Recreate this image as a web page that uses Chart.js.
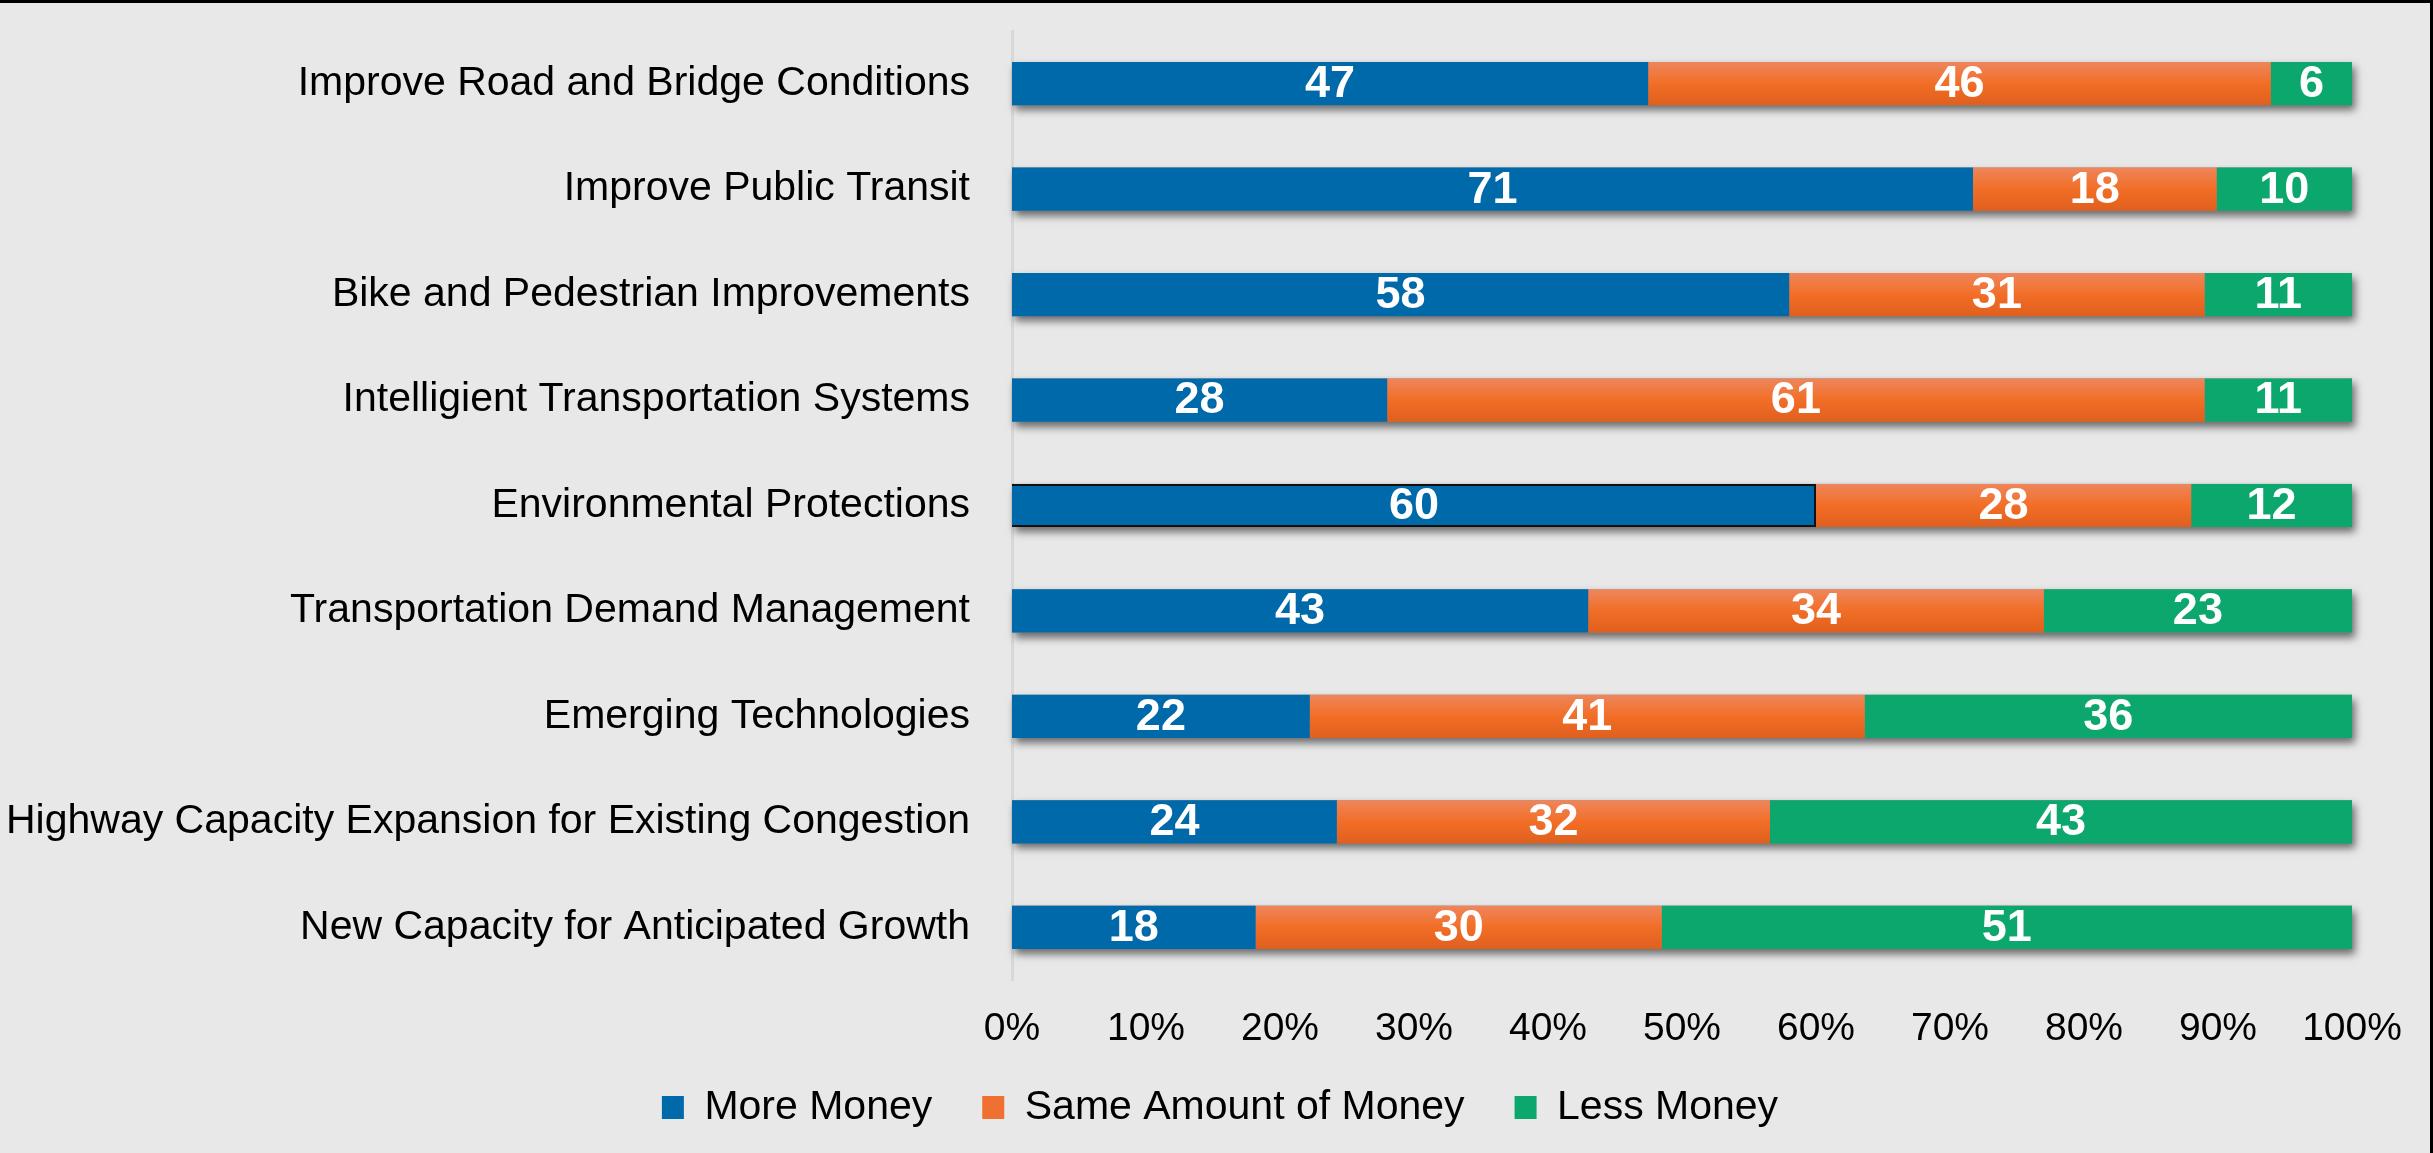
<!DOCTYPE html>
<html>
<head>
<meta charset="utf-8">
<title>Transportation Funding Priorities</title>
<script src="https://cdn.jsdelivr.net/npm/chart.js@4.4.1/dist/chart.umd.min.js"></script>
<style>
    html, body { margin: 0; padding: 0; background: #E8E8E8; }
    #wrap { position: relative; width: 2433px; height: 1153px; }
    #frame {
        position: absolute; left: 0; top: 0; width: 2433px; height: 1153px;
        box-sizing: border-box; border-top: 3px solid #000; border-right: 3px solid #000;
        pointer-events: none;
    }
</style>
</head>
<body>
<div id="wrap">
    <canvas id="fundingChart" width="2433" height="1153"></canvas>
    <div id="frame"></div>
</div>
<script>
// Survey categories, top to bottom
const categories = [
    'Improve Road and Bridge Conditions',
    'Improve Public Transit',
    'Bike and Pedestrian Improvements',
    'Intelligient Transportation Systems',
    'Environmental Protections',
    'Transportation Demand Management',
    'Emerging Technologies',
    'Highway Capacity Expansion for Existing Congestion',
    'New Capacity for Anticipated Growth'
];

// Responses per category
const moreMoney = [47, 71, 58, 28, 60, 43, 22, 24, 18];
const sameMoney = [46, 18, 31, 61, 28, 34, 41, 32, 30];
const lessMoney = [6, 10, 11, 11, 12, 23, 36, 43, 51];

const seriesNames = ['More Money', 'Same Amount of Money', 'Less Money'];
const percentTicks = [0, 10, 20, 30, 40, 50, 60, 70, 80, 90, 100];

const FONT = "'Liberation Sans', Arial, sans-serif";
const BAR_PCT = 0.41;
const LEFT_PAD = 88;
const LEGEND_FONT = 41;
const LEGEND_BOX = 23;
const LEGEND_PAD = 50;

// 100% stacked: each row is scaled to its own total
const rowTotals = categories.map((_, i) => moreMoney[i] + sameMoney[i] + lessMoney[i]);
const share = arr => arr.map((v, i) => v / rowTotals[i] * 100);

function orangeGradient(c, top, bottom) {
    const g = c.createLinearGradient(0, top, 0, bottom);
    g.addColorStop(0, '#EE865C');
    g.addColorStop(0.5, '#F26E27');
    g.addColorStop(1, '#DF5F1D');
    return g;
}

// Orange bars get a light-to-dark vertical gradient
function orangeFill(context) {
    const chart = context.chart;
    const area = chart.chartArea;
    if (!area || context.type !== 'data') return '#EF7030';
    const cy = chart.scales.y.getPixelForValue(context.dataIndex);
    const half = (area.height / categories.length) * BAR_PCT / 2;
    return orangeGradient(chart.ctx, cy - half, cy + half);
}

// Drop shadow under each full bar
const barShadow = {
    id: 'barShadow',
    beforeDatasetsDraw(chart) {
        const ctx = chart.ctx;
        const x = chart.scales.x;
        const left = x.getPixelForValue(0);
        const right = x.getPixelForValue(100);
        ctx.save();
        ctx.shadowColor = 'rgba(0, 0, 0, 0.55)';
        ctx.shadowBlur = 8;
        ctx.shadowOffsetX = 3;
        ctx.shadowOffsetY = 5;
        ctx.fillStyle = '#888';
        chart.getDatasetMeta(0).data.forEach(bar => {
            const { y, height } = bar.getProps(['y', 'height'], true);
            ctx.fillRect(left, y - height / 2, right - left, height);
        });
        ctx.restore();
    }
};

// White count labels centred in each segment
const segmentLabels = {
    id: 'segmentLabels',
    afterDatasetsDraw(chart) {
        const ctx = chart.ctx;
        ctx.save();
        ctx.fillStyle = '#FFFFFF';
        ctx.font = 'bold 45px ' + FONT;
        ctx.textAlign = 'center';
        ctx.textBaseline = 'middle';
        chart.data.datasets.forEach((ds, di) => {
            chart.getDatasetMeta(di).data.forEach((bar, i) => {
                const { x, base, y } = bar.getProps(['x', 'base', 'y'], true);
                ctx.fillText(ds.counts[i], (x + base) / 2, y + 1);
            });
        });
        ctx.restore();
    }
};

// give the orange legend swatch the same gradient once the legend is placed
const legendGradient = {
    id: 'legendGradient',
    afterLayout(chart) {
        const lg = chart.legend;
        if (!lg || !lg.legendItems) return;
        const top = lg.top + LEGEND_PAD + (LEGEND_FONT - LEGEND_BOX) / 2;
        lg.legendItems[1].fillStyle = orangeGradient(chart.ctx, top, top + LEGEND_BOX);
    }
};

// let tick labels spill outside their (trimmed) scale boxes
const noLabelClip = scale => { scale._computeLabelArea = () => null; };

const ctx = document.getElementById('fundingChart').getContext('2d');
const fundingChart = new Chart(ctx, {
    type: 'bar',
    data: {
        labels: categories,
        datasets: [{
            label: seriesNames[0],
            counts: moreMoney,
            data: share(moreMoney),
            backgroundColor: '#0069A9',
            // outlined bar in the Environmental Protections row
            borderColor: '#111111',
            borderWidth: c => c.dataIndex === 4 ? { top: 2, bottom: 2, right: 2, left: 0 } : 0,
            borderSkipped: false
        }, {
            label: seriesNames[1],
            counts: sameMoney,
            data: share(sameMoney),
            backgroundColor: orangeFill
        }, {
            label: seriesNames[2],
            counts: lessMoney,
            data: share(lessMoney),
            backgroundColor: '#0BA76C'
        }]
    },
    options: {
        indexAxis: 'y',
        responsive: false,
        animation: false,
        categoryPercentage: 1,
        barPercentage: BAR_PCT,
        layout: { padding: { top: 31, right: 81, bottom: 15, left: LEFT_PAD } },
        scales: {
            x: {
                stacked: true,
                min: 0,
                max: 100,
                afterBuildTicks: scale => { scale.ticks = percentTicks.map(v => ({ value: v })); },
                afterFit: scale => { scale.height = 57; noLabelClip(scale); },
                ticks: {
                    callback: v => v + '%',
                    color: '#000',
                    font: { family: FONT, size: 39 },
                    padding: 26,
                    maxRotation: 0
                },
                grid: { display: false, drawTicks: false },
                border: { display: false }
            },
            y: {
                stacked: true,
                afterFit: scale => {
                    scale.width = 1012 - LEFT_PAD;
                    scale.paddingTop = 0;
                    scale.paddingBottom = 0;
                    noLabelClip(scale);
                },
                ticks: {
                    color: '#000',
                    font: { family: FONT, size: 41 },
                    padding: 42
                },
                grid: { display: false, drawTicks: false },
                border: { display: true, color: '#D8D8D8', width: 3 }
            }
        },
        plugins: {
            legend: {
                position: 'bottom',
                labels: {
                    color: '#000',
                    font: { family: FONT, size: LEGEND_FONT },
                    boxWidth: 22,
                    boxHeight: LEGEND_BOX,
                    padding: LEGEND_PAD,
                    generateLabels: chart => chart.data.datasets.map((ds, i) => ({
                        text: ds.label,
                        fillStyle: ['#0069A9', '#EF7030', '#0BA76C'][i],
                        strokeStyle: 'transparent',
                        lineWidth: 0,
                        datasetIndex: i
                    }))
                }
            },
            tooltip: { enabled: false }
        }
    },
    plugins: [barShadow, segmentLabels, legendGradient]
});
</script>
</body>
</html>
